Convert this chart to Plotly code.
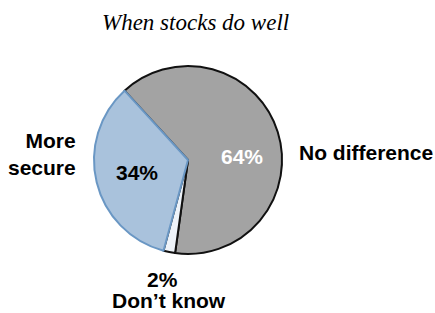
import plotly.graph_objects as go

labels = ["No difference", "Don\u2019t know", "More secure"]
values = [64, 2, 34]
title_text = "When stocks do well"

fill_colors = ["#a3a3a3", "#eef3f9", "#a9c2dc"]
line_colors = ["#111111", "#111111", "#6a97c4"]

W, H = 435, 313
cx, cy, r = 188, 160, 94

fig = go.Figure()
fig.add_trace(go.Pie(
    labels=labels,
    values=values,
    textinfo="none",
    sort=False,
    direction="clockwise",
    rotation=-42.5,
    marker=dict(colors=fill_colors, line=dict(color=line_colors, width=2)),
    hoverinfo="label+percent",
    showlegend=False,
    domain=dict(x=[(cx - r) / W, (cx + r) / W], y=[(H - cy - r) / H, (H - cy + r) / H]),
))

font_lbl = dict(family="Liberation Sans, Arial", size=21, color="#000000")
ann = []
ann.append(dict(text="<i>" + title_text + "</i>", x=195 / W, y=1 - 22 / H, xref="paper", yref="paper",
                showarrow=False, xanchor="center", yanchor="middle",
                font=dict(family="Liberation Serif, Times New Roman", size=23, color="#000000")))
ann.append(dict(text="<b>More<br>secure</b>", x=78 / W, y=1 - 154 / H, xref="paper", yref="paper",
                showarrow=False, xanchor="right", yanchor="middle", align="right", font=font_lbl))
ann.append(dict(text="<b>" + labels[0] + "</b>", x=297 / W, y=1 - 152 / H, xref="paper", yref="paper",
                showarrow=False, xanchor="left", yanchor="middle", font=font_lbl))
ann.append(dict(text="<b>%d%%</b>" % values[1], x=162 / W, y=1 - 279 / H,
                xref="paper", yref="paper", showarrow=False, xanchor="center", yanchor="middle",
                font=font_lbl))
ann.append(dict(text="<b>%s</b>" % labels[1], x=169 / W, y=0, borderpad=0,
                xref="paper", yref="paper", showarrow=False, xanchor="center", yanchor="bottom",
                font=font_lbl))
ann.append(dict(text="<b>%d%%</b>" % values[0], x=242 / W, y=1 - 156 / H, xref="paper", yref="paper",
                showarrow=False, xanchor="center", yanchor="middle",
                font=dict(family="Liberation Sans, Arial", size=21, color="#ffffff")))
ann.append(dict(text="<b>%d%%</b>" % values[2], x=137 / W, y=1 - 172 / H, xref="paper", yref="paper",
                showarrow=False, xanchor="center", yanchor="middle",
                font=dict(family="Liberation Sans, Arial", size=21, color="#000000")))

fig.update_layout(
    width=W, height=H,
    margin=dict(l=0, r=0, t=0, b=0),
    paper_bgcolor="#ffffff",
    plot_bgcolor="#ffffff",
    annotations=ann,
)
fig.write_html("out.html", config={"displayModeBar": False},
               post_script="document.body.style.margin='0';")
